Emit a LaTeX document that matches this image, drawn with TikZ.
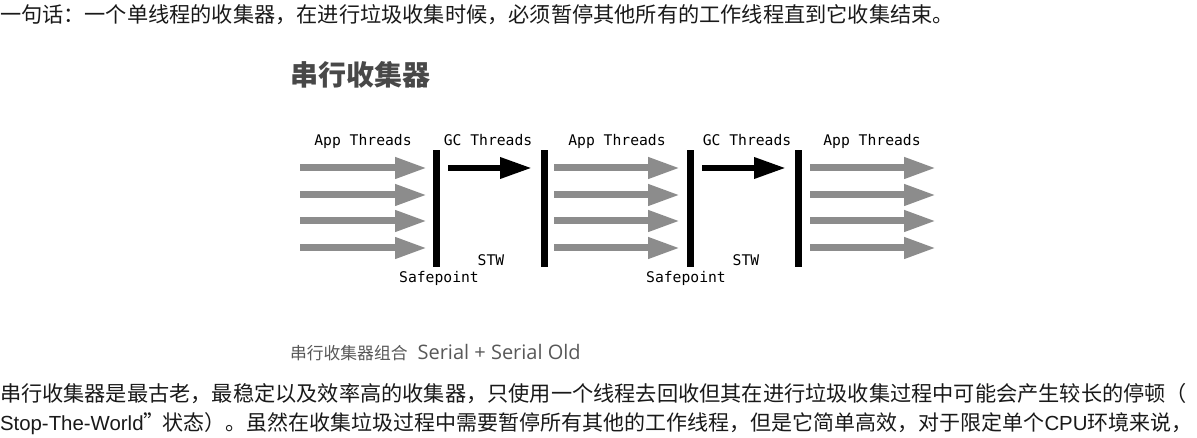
\documentclass[tikz,border=0pt]{standalone}
\usepackage{fontspec}
\setmainfont{Liberation Sans}
\setmonofont{DejaVu Sans Mono}
\newfontfamily\cjk{Noto Sans CJK SC}
\newfontfamily\caplat{Open Sans}
\usetikzlibrary{arrows.meta}

\definecolor{threadgray}{RGB}{140,140,140}
\definecolor{titlegray}{RGB}{72,72,72}
\definecolor{captiongray}{RGB}{88,88,88}

\newcommand{\bodylat}[1]{{\fontsize{20.4}{25}\rmfamily\selectfont #1}}

\begin{document}
\begin{tikzpicture}[
  x=1pt, y=-1pt,
  every node/.style = {inner sep=0pt, outer sep=0pt},
  bodytext/.style   = {anchor=west, text=black!90, font=\fontsize{21.2}{25}\selectfont\cjk},
  threadlabel/.style = {anchor=base, font=\fontsize{14.7}{17}\selectfont\ttfamily},
  barrier/.style    = {fill=black, minimum width=7pt, minimum height=117pt},
  appthread/.style  = {threadgray, line width=7pt, -{Triangle[length=32pt, width=20pt]}},
  gcthread/.style   = {black, line width=6.5pt, -{Triangle[length=32pt, width=20pt]}},
]

\useasboundingbox (0,0) rectangle (1197,438);

% ── Intro sentence ────────────────────────────────────────────────────────
\node[bodytext] (intro) at (0,15)
  {一句话：一个单线程的收集器，在进行垃圾收集时候，必须暂停其他所有的工作线程直到它收集结束。};

% ── Title ─────────────────────────────────────────────────────────────────
\node[anchor=west, text=titlegray, font=\fontsize{28}{33}\selectfont\cjk\bfseries]
  (title) at (290,75) {串行收集器};

% ── Safepoint barriers ────────────────────────────────────────────────────
\foreach \b/\x in {1/436.5, 2/544, 3/690.5, 4/798} {
  \node[barrier] (bar\b) at (\x,208.5) {};
}

% ── Application threads (3 phases x 4 threads) ────────────────────────────
\foreach \s/\xa/\xb in {1/300/427, 2/554/680, 3/810/936} {
  \foreach \r/\y in {1/168, 2/195, 3/221, 4/248} {
    \coordinate (app\s\r-from) at (\xa,\y);
    \coordinate (app\s\r-to)   at (\xb,\y);
    \draw[appthread] (app\s\r-from) -- (app\s\r-to);
  }
}

% ── GC threads (single collector thread) ──────────────────────────────────
\foreach \g/\xa/\xb in {1/448/532, 2/702/786} {
  \coordinate (gc\g-from) at (\xa,168);
  \coordinate (gc\g-to)   at (\xb,168);
  \draw[gcthread] (gc\g-from) -- (gc\g-to);
}

% ── Phase labels ──────────────────────────────────────────────────────────
\node[threadlabel] (lapp1) at (363,146) {App Threads};
\node[threadlabel] (lgc1)  at (488,146) {GC Threads};
\node[threadlabel] (lapp2) at (617,146) {App Threads};
\node[threadlabel] (lgc2)  at (747,146) {GC Threads};
\node[threadlabel] (lapp3) at (872,146) {App Threads};

\node[threadlabel] (stw1)  at (491,266) {STW};
\node[threadlabel] (stw2)  at (746,266) {STW};
\node[threadlabel] (safe1) at (439,283) {Safepoint};
\node[threadlabel] (safe2) at (686,283) {Safepoint};

% ── Caption ───────────────────────────────────────────────────────────────
\node[anchor=west, text=captiongray, font=\fontsize{16.8}{20}\selectfont]
  (caption) at (290,353)
  {{\cjk 串行收集器组合}\hspace{10pt}{\caplat\fontsize{20}{22}\selectfont Serial + Serial Old}};

% ── Description paragraph ─────────────────────────────────────────────────
\node[bodytext] (desc1) at (0,394)
  {串行收集器是最古老，最稳定以及效率高的收集器，只使用一个线程去回收但其在进行垃圾收集过程中可能会产生较长的停顿（};
\node[bodytext, font=\fontsize{21}{25}\selectfont\cjk] (desc2) at (0,424)
  {\bodylat{Stop-The-World}\makebox[0.9em][l]{”}状态）。虽然在收集垃圾过程中需要暂停所有其他的工作线程，但是它简单高效，对于限定单个\bodylat{CPU}环境来说\makebox[0.4em][l]{，}};

\end{tikzpicture}
\end{document}
